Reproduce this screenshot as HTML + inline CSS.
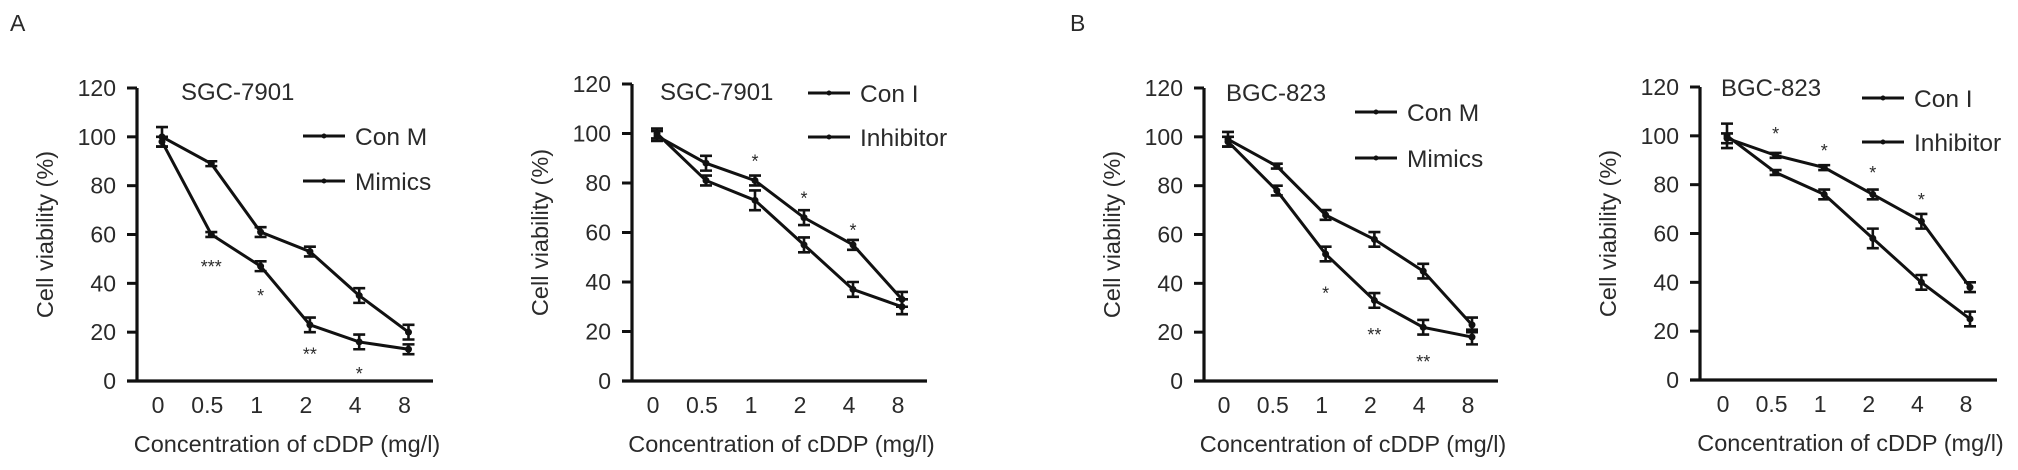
<!DOCTYPE html>
<html><head><meta charset="utf-8"><style>
body{margin:0;background:#fff;}
svg{display:block;font-family:"Liberation Sans",Arial,sans-serif;}
text{fill:#2a2a2a;}
</style></head><body>
<svg id="fig" width="2018" height="470" viewBox="0 0 2018 470">
<text x="10" y="31" font-size="23">A</text>
<text x="1070" y="31" font-size="23">B</text>
</svg>
<script>
const categories = ["0","0.5","1","2","4","8"];
const yTicks = [0,20,40,60,80,100,120];
// panel 1
const p1Names = ["Con M","Mimics"];
const p1A = [100,89,61,53,35,20];
const p1AErr = [4,1,2,2,3,3];
const p1B = [98,60,47,23,16,13];
const p1BErr = [2,1,2,3,3,2];
const p1Stars = ["","***","*","**","*",""];
const p1StarVals = [0,48,36,12,4,0];
// panel 2
const p2Names = ["Con I","Inhibitor"];
const p2A = [100,81,73,55,37,30];
const p2AErr = [2,2,4,3,3,3];
const p2B = [99,88,81,66,55,33];
const p2BErr = [2,3,2,3,2,3];
const p2Stars = ["","","*","*","*",""];
const p2StarVals = [0,0,90,75,62,0];
// panel 3
const p3Names = ["Con M","Mimics"];
const p3A = [99,88,68,58,45,23];
const p3AErr = [3,1,2,3,3,3];
const p3B = [98,78,52,33,22,18];
const p3BErr = [2,2,3,3,3,3];
const p3Stars = ["","","*","**","**",""];
const p3StarVals = [0,0,37,20,9,0];
// panel 4
const p4Names = ["Con I","Inhibitor"];
const p4A = [100,85,76,58,40,25];
const p4AErr = [5,1,2,4,3,3];
const p4B = [99,92,87,76,65,38];
const p4BErr = [2,1,1,2,3,2];
const p4Stars = ["","*","*","*","*",""];
const p4StarVals = [0,102,95,86,75,0];

const NS="http://www.w3.org/2000/svg";
const svg=document.getElementById('fig');
function mk(tag,attrs,parent,text){const e=document.createElementNS(NS,tag);for(const k in attrs)e.setAttribute(k,attrs[k]);if(text!==undefined)e.textContent=text;(parent||svg).appendChild(e);return e;}

function panel(cfg){
  const g=mk('g',{});
  
  
  const y=v=>cfg.y0-(v/120)*(cfg.y0-cfg.y120);
  const x=i=>cfg.px0+i*cfg.dx;
  const ax=mk('path',{d:`M${cfg.ax},${cfg.y120} V${cfg.y0} M${cfg.ax-10},${cfg.y0} H${cfg.axEnd}`,stroke:'#111','stroke-width':3.2,fill:'none'},g);
  
  
  yTicks.forEach(t=>{
    const tk=mk('line',{x1:cfg.ax-10,x2:cfg.ax,y1:y(t),y2:y(t),stroke:'#111','stroke-width':3},g);
    
    
    const tl=mk('text',{x:cfg.ax-21,y:y(t)+8,'font-size':23,'text-anchor':'end'},g,String(t));
    
    
  });
  categories.forEach((c,i)=>{
    const tl=mk('text',{x:x(i)-4,y:cfg.y0+32,'font-size':23,'text-anchor':'middle'},g,c);
    
    
  });
  const xt=mk('text',{x:(cfg.ax+cfg.axEnd)/2+2,y:cfg.y0+71,'font-size':23.5,'text-anchor':'middle'},g,'Concentration of cDDP (mg/l)');
  
  
  const yt=mk('text',{x:0,y:0,'font-size':23.5,'text-anchor':'middle',transform:`translate(${cfg.ax-84},${(cfg.y0+cfg.y120)/2}) rotate(-90)`},g,'Cell viability (%)');
  
  
  const tt=mk('text',{x:cfg.titleX,y:cfg.titleY,'font-size':24},g,cfg.title);
  
  
  [[cfg.a,cfg.aErr],[cfg.b,cfg.bErr]].forEach(([vals,errs],si)=>{
    const pts=vals.map((v,i)=>`${x(i)},${y(v)}`).join(' ');
    const ln=mk('polyline',{points:pts,stroke:'#111','stroke-width':3,fill:'none'},g);
    
    
    vals.forEach((v,i)=>{
      const e=errs[i];
      const eb=mk('path',{d:`M${x(i)},${y(v+e)}V${y(v-e)}M${x(i)-6},${y(v+e)}H${x(i)+6}M${x(i)-6},${y(v-e)}H${x(i)+6}`,stroke:'#111','stroke-width':2.6,fill:'none'},g);
      
      
      const pt=mk('circle',{cx:x(i),cy:y(v),r:3.5,fill:'#111'},g);
      
      
    });
  });
  cfg.stars.forEach((s,i)=>{
    if(!s)return;
    const st=mk('text',{x:x(i),y:y(cfg.starVals[i])+9,'font-size':18,'text-anchor':'middle'},g,s);
    
    
  });
  cfg.names.forEach((n,k)=>{
    const ly=cfg.legY+k*cfg.legGap;
    const ll=mk('line',{x1:cfg.legX,x2:cfg.legX+42,y1:ly,y2:ly,stroke:'#111','stroke-width':3},g);
    
    
    mk('circle',{cx:cfg.legX+21,cy:ly,r:2.5,fill:'#111'},g);
    const lt=mk('text',{x:cfg.legX+52,y:ly+9,'font-size':24.5},g,n);
    
    
  });
}

panel({name:'panel-a-sgc7901-mimics',ax:137,axEnd:433,y0:381,y120:88,px0:162,dx:49.3,a:p1A,aErr:p1AErr,b:p1B,bErr:p1BErr,stars:p1Stars,starVals:p1StarVals,names:p1Names,title:'SGC-7901',titleX:181,titleY:100,legX:303,legY:136,legGap:45});
panel({name:'panel-a-sgc7901-inhibitor',ax:632,axEnd:927,y0:381,y120:84,px0:657,dx:49,a:p2A,aErr:p2AErr,b:p2B,bErr:p2BErr,stars:p2Stars,starVals:p2StarVals,names:p2Names,title:'SGC-7901',titleX:660,titleY:100,legX:808,legY:93,legGap:44});
panel({name:'panel-b-bgc823-mimics',ax:1204,axEnd:1498,y0:381,y120:88,px0:1228,dx:48.8,a:p3A,aErr:p3AErr,b:p3B,bErr:p3BErr,stars:p3Stars,starVals:p3StarVals,names:p3Names,title:'BGC-823',titleX:1226,titleY:101,legX:1355,legY:112,legGap:46});
panel({name:'panel-b-bgc823-inhibitor',ax:1700,axEnd:1997,y0:380,y120:87,px0:1727,dx:48.6,a:p4A,aErr:p4AErr,b:p4B,bErr:p4BErr,stars:p4Stars,starVals:p4StarVals,names:p4Names,title:'BGC-823',titleX:1721,titleY:96,legX:1862,legY:98,legGap:44});
</script>
</body></html>
